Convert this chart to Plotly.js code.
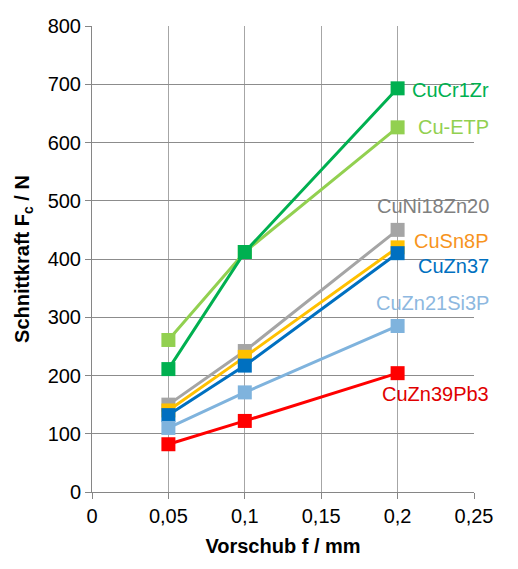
<!DOCTYPE html>
<html>
<head>
<meta charset="utf-8">
<script src="https://cdn.plot.ly/plotly-3.0.1.min.js"></script>
<style>body{margin:0;background:#fff}</style>
</head>
<body>
<div id="myDiv" style="width:518px;height:569px"></div>
<script>
// Schnittkraft ueber Vorschub
var feed = [0.05, 0.1, 0.2];
var names = ["Cu-ETP", "CuCr1Zr", "CuNi18Zn20", "CuSn8P", "CuZn37", "CuZn21Si3P", "CuZn39Pb3"];
var cuEtp = [261, 412, 626];
var cuCr1Zr = [211, 412, 693];
var cuNi18Zn20 = [150, 242, 450];
var cuSn8P = [140, 232, 420];
var cuZn37 = [132, 217, 410];
var cuZn21Si3P = [110, 171, 285];
var cuZn39Pb3 = [82, 122, 204];
var series = [cuEtp, cuCr1Zr, cuNi18Zn20, cuSn8P, cuZn37, cuZn21Si3P, cuZn39Pb3];

var lineColors = ["#92D050", "#00B050", "#A5A5A5", "#FFC000", "#0070C0", "#7FB3DD", "#FF0000"];
var textColors = ["#92D050", "#00B050", "#808080", "#F7941D", "#0070C0", "#8DB8E0", "#E00000"];
var labelShiftY = [0, -2, 24, 6, -13, 23, -21];

var data = series.map(function (vals, i) {
  return {
    type: "scatter",
    mode: "lines+markers",
    name: names[i],
    x: feed,
    y: vals,
    line: { color: lineColors[i], width: 3 },
    marker: { symbol: "square", size: 14, color: lineColors[i] },
    cliponaxis: false
  };
});

var annotations = series.map(function (vals, i) {
  return {
    x: feed[feed.length - 1], y: vals[vals.length - 1],
    xref: "x", yref: "y",
    text: names[i],
    showarrow: false,
    xanchor: "right", yanchor: "middle",
    xshift: 93, yshift: labelShiftY[i],
    font: { family: "Liberation Sans, Arial", size: 20, color: textColors[i] }
  };
});

var layout = {
  width: 518, height: 569,
  margin: { l: 92, r: 44, t: 26, b: 77 },
  showlegend: false,
  separators: ", ",
  paper_bgcolor: "#fff", plot_bgcolor: "#fff",
  font: { family: "Liberation Sans, Arial", size: 20, color: "#000" },
  xaxis: {
    range: [0, 0.25], dtick: 0.05, tick0: 0,
    showgrid: true, gridcolor: "#a6a6a6", gridwidth: 1,
    zeroline: false, showline: true, linecolor: "#868686", linewidth: 1,
    ticks: "outside", ticklen: 6, tickcolor: "#868686",
    tickfont: { size: 20 },
    title: { text: "<b>Vorschub f / mm</b>", font: { size: 20 }, standoff: 12 }
  },
  yaxis: {
    range: [0, 800], dtick: 100,
    showgrid: true, gridcolor: "#8c8c8c", gridwidth: 1,
    zeroline: false, showline: true, linecolor: "#868686", linewidth: 1,
    ticks: "outside", ticklen: 6, tickcolor: "#868686",
    tickfont: { size: 20 },
    title: { text: "<b>Schnittkraft F<sub>c</sub> / N</b>", font: { size: 20 }, standoff: 12 }
  },
  annotations: annotations
};

Plotly.newPlot("myDiv", data, layout, { displayModeBar: false });
</script>
</body>
</html>
